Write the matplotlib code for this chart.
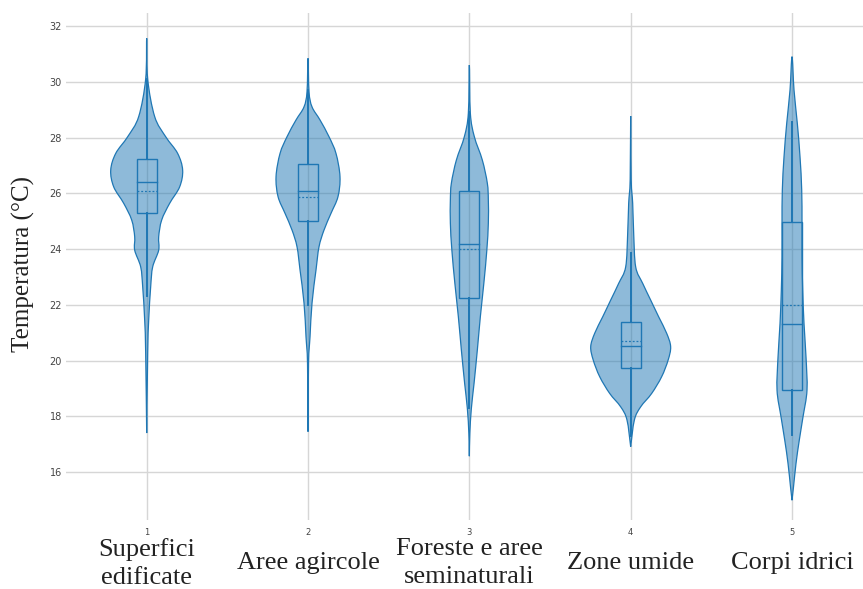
import matplotlib
matplotlib.use('Agg')
import matplotlib.pyplot as plt
from matplotlib.path import Path
from matplotlib.patches import PathPatch
import numpy as np

categorie = ["Superfici\nedificate", "Aree agircole", "Foreste e aree\nseminaturali",
             "Zone umide", "Corpi idrici"]
posizioni = [1, 2, 3, 4, 5]

# contorno dei violini: temperatura e semi-larghezza (densita' relativa)
temp_1 = [17.4, 20.26, 21.45, 22.65, 23.36, 23.96, 24.44, 25.04, 25.64, 26.23, 26.83, 27.43, 28.03, 28.75, 30.1, 31.56]
dens_1 = [0, 1, 2, 4, 6, 12, 12, 15, 23, 33, 36, 31, 19, 8, 1, 0]
temp_2 = [17.45, 19.9, 20.85, 22.06, 23.25, 24.08, 24.68, 25.28, 25.88, 26.6, 27.43, 28.03, 28.63, 29.1, 29.64, 30.84]
dens_2 = [0, 0.5, 2, 4, 8, 11, 16, 23, 30, 32, 28, 21, 12, 4, 1, 0]
temp_3 = [16.57, 17.39, 18.28, 19.18, 20.38, 21.57, 22.77, 23.96, 24.92, 25.76, 26.36, 27.19, 28.03, 28.87, 30.6]
dens_3 = [0, 0.5, 2, 4.7, 8, 11, 14.5, 17.5, 19, 19, 18, 13, 5, 1, 0]
temp_4 = [16.91, 17.87, 18.34, 18.82, 19.42, 20.02, 20.5, 20.98, 21.57, 22.17, 22.77, 23.36, 24.56, 25.64, 26.5, 28.77]
dens_4 = [0, 3.7, 10, 21, 31, 37.5, 40, 36, 28, 20, 12, 5, 3, 2, 0.5, 0]
temp_5 = [14.99, 15.47, 16.31, 17.15, 17.98, 18.94, 20.13, 21.33, 22.53, 23.72, 24.92, 26.12, 27.31, 28.51, 29.7, 30.9]
dens_5 = [0, 1.5, 4, 7.3, 11, 15, 14, 12, 10.7, 10, 10, 9.7, 8, 5.3, 2, 0]

# statistiche dei box
q1 = [25.28, 25.0, 22.23, 19.74, 18.94]
mediana = [26.41, 26.09, 24.17, 20.52, 21.30]
q3 = [27.23, 27.04, 26.08, 21.39, 24.98]
media = [26.09, 25.88, 24.01, 20.70, 21.99]
baffo_min = [22.3, 22.0, 18.3, 17.3, 17.33]
baffo_max = [30.1, 29.7, 28.9, 23.85, 28.57]

temps = [temp_1, temp_2, temp_3, temp_4, temp_5]
denss = [dens_1, dens_2, dens_3, dens_4, dens_5]

blu = '#1f77b4'
scala = 1 / 161.5
mezzo_box = 10 / 161.5


def curva_liscia(xs, ys):
    # bezier cubiche alla Catmull-Rom passanti per i punti letti
    pts = np.column_stack([xs, ys])
    verts = [pts[0]]
    codes = [Path.MOVETO]
    n = len(pts)
    for k in range(n - 1):
        p0 = pts[max(k - 1, 0)]
        p1 = pts[k]
        p2 = pts[k + 1]
        p3 = pts[min(k + 2, n - 1)]
        verts += [p1 + (p2 - p0) / 6, p2 - (p3 - p1) / 6, p2]
        codes += [Path.CURVE4] * 3
    return verts, codes


fig = plt.figure(figsize=(8.63, 5.89), dpi=100)
ax = fig.add_axes([0.0765, 0.1171, 0.9235, 0.861])

for i, x in enumerate(posizioni):
    t = np.array(temps[i])
    d = np.array(denss[i]) * scala
    # contorno chiuso: lato destro dal basso in alto, lato sinistro dall'alto in basso
    xs = np.concatenate([x + d, (x - d)[::-1][1:]])
    ys = np.concatenate([t, t[::-1][1:]])
    verts, codes = curva_liscia(xs, ys)
    ax.add_patch(PathPatch(Path(verts, codes), facecolor=blu, alpha=0.5, edgecolor='none', zorder=2))
    ax.add_patch(PathPatch(Path(verts, codes), facecolor='none', edgecolor=blu, lw=0.9, zorder=3))
    # baffi
    ax.plot([x, x], [baffo_min[i], q1[i]], color=blu, lw=1.4, zorder=4)
    ax.plot([x, x], [q3[i], baffo_max[i]], color=blu, lw=1.4, zorder=4)
    # box
    ax.add_patch(plt.Rectangle((x - mezzo_box, q1[i]), 2 * mezzo_box, q3[i] - q1[i],
                               facecolor='none', edgecolor=blu, lw=1, zorder=5))
    ax.plot([x - mezzo_box, x + mezzo_box], [mediana[i], mediana[i]], color=blu, lw=1, zorder=5)
    ax.plot([x - mezzo_box, x + mezzo_box], [media[i], media[i]], color=blu, lw=0.9,
            ls=(0, (1.5, 1.5)), zorder=5)

ax.set_xlim(0.5, 5.44)
ax.set_ylim(14.28, 32.47)
ax.set_yticks(range(16, 33, 2))
ax.set_xticks(posizioni)
ax.set_xticklabels([str(p) for p in posizioni])
ax.tick_params(axis='y', length=0, labelsize=7, labelcolor='#444444', pad=3)
ax.tick_params(axis='x', length=0, labelsize=6, labelcolor='#444444', pad=6)
ax.grid(True, color='#d6d6d6', lw=1)
ax.set_axisbelow(True)
for s in ax.spines.values():
    s.set_visible(False)

for x, nome in zip(posizioni, categorie):
    ax.text(x, -0.085, nome, transform=ax.get_xaxis_transform(), ha='center', va='center',
            family='Liberation Serif', fontsize=19, color='#222222', linespacing=1.35,
            multialignment='center')

ax.set_ylabel("Temperatura (°C)", family='Liberation Serif', fontsize=18, color='#222222',
              va='center')
ax.yaxis.set_label_coords(-0.054, 0.505)

plt.savefig('out.png', dpi=100)
